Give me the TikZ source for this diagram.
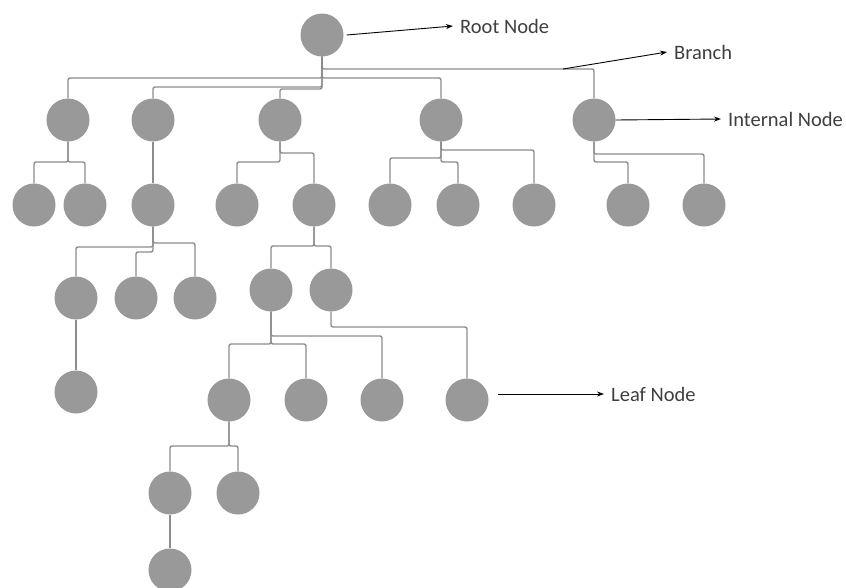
\documentclass[tikz,border=0pt]{standalone}
\usepackage{fontspec}
\setmainfont{Carlito}
\usetikzlibrary{arrows.meta}
\definecolor{nodegray}{HTML}{999999}
\definecolor{linegray}{HTML}{8C8C8C}
\definecolor{txtgray}{HTML}{3F3F3F}
\tikzset{
  tnode/.style={circle,fill=nodegray,minimum size=43pt,inner sep=0pt,draw=none},
  conn/.style={draw=linegray,line width=1.4pt,rounded corners=2pt},
  lbl/.style={anchor=west,inner xsep=7pt,inner ysep=2pt,text=txtgray,font=\fontsize{20.5}{24}\selectfont},
  arr/.style={draw=black,line width=0.9pt,-{Stealth[length=7pt,width=5pt]}}
}
\newcommand\elbow[3]{\draw[conn] (#1.south) -- (#1.south |- 0,#3) -| (#2.north);}
\newcommand\straight[2]{\draw[conn] (#1.south) -- (#2.north);}
\begin{document}
\begin{tikzpicture}[x=1pt,y=-1pt]
\useasboundingbox (0,0) rectangle (846,587);
% nodes
\node[tnode] (root) at (322,35) {};
\node[tnode] (a) at (68,120) {};
\node[tnode] (b) at (153,120) {};
\node[tnode] (c) at (280,120) {};
\node[tnode] (d) at (441,120) {};
\node[tnode] (e) at (594,120) {};
\node[tnode] (a1) at (34,205) {};
\node[tnode] (a2) at (85,205) {};
\node[tnode] (b1) at (153,205) {};
\node[tnode] (c1) at (237,205) {};
\node[tnode] (c2) at (314,205) {};
\node[tnode] (d1) at (390,205) {};
\node[tnode] (d2) at (458,205) {};
\node[tnode] (d3) at (534,205) {};
\node[tnode] (e1) at (628,205) {};
\node[tnode] (e2) at (704,205) {};
\node[tnode] (b1a) at (76,298) {};
\node[tnode] (b1b) at (136,298) {};
\node[tnode] (b1c) at (195,298) {};
\node[tnode] (c2a) at (271,290) {};
\node[tnode] (c2b) at (331,290) {};
\node[tnode] (b1a1) at (76,392) {};
\node[tnode] (c2a1) at (229,400) {};
\node[tnode] (c2a2) at (306,400) {};
\node[tnode] (c2a3) at (382,400) {};
\node[tnode] (c2b1) at (467,400) {};
\node[tnode] (g1) at (170,493) {};
\node[tnode] (g2) at (238,493) {};
\node[tnode] (g11) at (170,570) {};
% connectors
\elbow{root}{e}{69}
\elbow{root}{a}{78}
\elbow{root}{d}{78}
\elbow{root}{b}{87}
\elbow{root}{c}{89}
\elbow{a}{a1}{162}
\elbow{a}{a2}{162}
\straight{b}{b1}
\elbow{c}{c1}{162}
\elbow{c}{c2}{153}
\elbow{d}{d1}{158}
\elbow{d}{d2}{162}
\elbow{d}{d3}{150}
\elbow{e}{e1}{162}
\elbow{e}{e2}{154}
\elbow{b1}{b1a}{247}
\elbow{b1}{b1b}{252}
\elbow{b1}{b1c}{243}
\elbow{c2}{c2a}{246}
\elbow{c2}{c2b}{246}
\elbow{c2a}{c2a1}{344}
\elbow{c2a}{c2a2}{344}
\elbow{c2a}{c2a3}{336}
\elbow{c2b}{c2b1}{327}
\straight{b1a}{b1a1}
\elbow{c2a1}{g1}{446}
\elbow{c2a1}{g2}{446}
\straight{g1}{g11}
% labels
\node[lbl] (rootlbl) at (453,26) {Root Node};
\node[lbl] (branchlbl) at (667,52) {Branch};
\node[lbl] (internallbl) at (721,119) {Internal Node};
\node[lbl] (leaflbl) at (604,394) {Leaf Node};
\coordinate (brpt) at (563,69);
\coordinate (leafpt) at (498,394);
\draw[arr] ([xshift=3pt]root.east) -- (rootlbl.west);
\draw[arr] (brpt) -- (branchlbl.west);
\draw[arr] (e.east) -- (internallbl.west);
\draw[arr] (leafpt) -- (leaflbl.west);
\end{tikzpicture}
\end{document}
